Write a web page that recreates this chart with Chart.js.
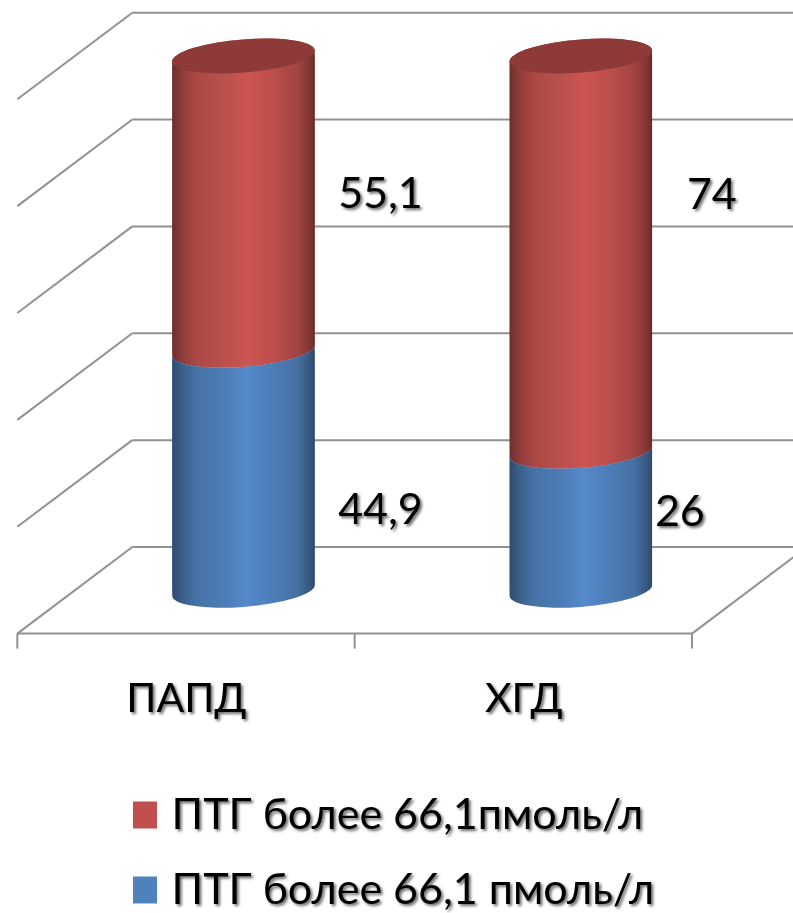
<!DOCTYPE html>
<html><head><meta charset="utf-8">
<style>html,body{margin:0;padding:0;background:#fff}#w{width:793px;height:913px;position:relative}</style>
<script src="https://cdn.jsdelivr.net/npm/chart.js@4"></script></head>
<body><div id="w"><canvas id="c"></canvas></div>
<script>
const categories = ['ПАПД', 'ХГД'];
const lowerName = 'ПТГ более 66,1 пмоль/л';
const upperName = 'ПТГ более 66,1пмоль/л';
const lowerValues = [44.9, 26];
const upperValues = [55.1, 74];
const lowerLabels = ['44,9', '26'];
const upperLabels = ['55,1', '74'];
const yTicks = [0, 20, 40, 60, 80, 100];

const FONT = 'Lato, "Open Sans", "Noto Sans", sans-serif';
const TXT = '#000';
const DX = 57.5, DY = 43.3, SHEAR = -0.0758, RY = 16.6;
const redStops = [[0,'#6c2e2c'],[.07,'#8e3c3a'],[.17,'#ab4845'],[.35,'#b9504c'],[.52,'#cb5551'],[.7,'#bd4f4c'],[.88,'#a14341'],[.96,'#843735'],[1,'#662a29']];
const blueStops = [[0,'#2e4c70'],[.07,'#3b6088'],[.17,'#4673a6'],[.35,'#4c7bb5'],[.52,'#5689cb'],[.7,'#4d7db8'],[.88,'#4470a3'],[.96,'#38587f'],[1,'#2d4a6c']];
const labelOffsets = [
  [[137, 40], [99, -9]],
  [[137, -9], [131, -59]]
];

function silhouette(ctx, b, topUpper) {
  const r = b.width / 2;
  ctx.moveTo(b.x - r, b.y + r * SHEAR * -1);
  ctx.save();
  ctx.transform(1, SHEAR, 0, 1, b.x, b.y);
  ctx.ellipse(0, 0, r, RY, 0, Math.PI, 0, !topUpper);
  ctx.restore();
  ctx.save();
  ctx.transform(1, SHEAR, 0, 1, b.x, b.base);
  ctx.ellipse(0, 0, r, RY, 0, 0, Math.PI, false);
  ctx.restore();
  ctx.closePath();
}
function grad(ctx, b, stops) {
  const g = ctx.createLinearGradient(b.x - b.width / 2, 0, b.x + b.width / 2, 0);
  stops.forEach(s => g.addColorStop(s[0], s[1]));
  return g;
}

const cylinder = {
  id: 'cylinder',
  beforeInit(chart) {
    const ctx = chart.ctx, orig = ctx.fillText;
    ctx.fillText = function (...a) {
      ctx.save();
      ctx.shadowColor = 'rgba(0,0,0,.6)';
      ctx.shadowOffsetX = 2; ctx.shadowOffsetY = 2; ctx.shadowBlur = 3;
      if (a[0] === lowerName || a[0] === upperName) a[1] -= 7;
      orig.apply(ctx, a);
      ctx.restore();
    };
  },
  afterLayout(chart) { chart.legend.left = 133 - chart.legend.options.labels.padding; chart.legend.top = 761.5; },
  beforeDatasetsDraw(chart) {
    const ctx = chart.ctx, x = chart.scales.x, y = chart.scales.y;
    const step = x.width / categories.length;
    ctx.save();
    ctx.strokeStyle = '#919191'; ctx.lineWidth = 2;
    const line = (a, b, c, d) => { ctx.beginPath(); ctx.moveTo(a, b); ctx.lineTo(c, d); ctx.stroke(); };
    const L = x.left - DX, R = x.right - DX;
    yTicks.forEach(v => {
      const p = y.getPixelForValue(v);
      line(L, p + DY, L + 2 * DX, p - DY);
      line(L + 2 * DX, p - DY, 793, p - DY);
    });
    const p0 = y.getPixelForValue(0);
    line(L, p0 + DY, R, p0 + DY);
    line(R, p0 + DY, R + 2 * DX, p0 - DY);
    for (let i = 0; i <= categories.length; i++) {
      const px = L + i * step;
      line(px, p0 + DY, px, p0 + DY + 15);
    }
    ctx.restore();
  },
  beforeDatasetDraw(chart, args) {
    const ctx = chart.ctx, isTop = args.index === 1;
    ctx.save();
    ctx.beginPath();
    args.meta.data.forEach(b => silhouette(ctx, b, isTop));
    ctx.clip();
  },
  afterDatasetDraw(chart, args) {
    const ctx = chart.ctx, isTop = args.index === 1;
    ctx.restore();
    args.meta.data.forEach(b => {
      ctx.save();
      ctx.beginPath();
      silhouette(ctx, b, isTop);
      ctx.fillStyle = grad(ctx, b, isTop ? redStops : blueStops);
      ctx.fill();
      if (isTop) {
        ctx.translate(b.x, b.y);
        ctx.transform(1, SHEAR, 0, 1, 0, 0);
        ctx.beginPath();
        ctx.ellipse(0, 0, b.width / 2, RY, 0, 0, 2 * Math.PI);
        ctx.fillStyle = '#8e3a38';
        ctx.fill();
      }
      ctx.restore();
    });
  },
  afterDatasetsDraw(chart) {
    const ctx = chart.ctx;
    ctx.save();
    ctx.font = '43px ' + FONT;
    ctx.fillStyle = TXT; ctx.textAlign = 'center'; ctx.textBaseline = 'middle';
    [lowerLabels, upperLabels].forEach((labels, d) => {
      chart.getDatasetMeta(d).data.forEach((b, i) => {
        const o = labelOffsets[d][i];
        ctx.fillText(labels[i], b.x + o[0], (b.y + b.base) / 2 + o[1]);
      });
    });
    ctx.restore();
  }
};

Chart.defaults.font.family = FONT;
new Chart(document.getElementById('c'), {
  type: 'bar',
  data: {
    labels: categories,
    datasets: [
      { label: lowerName, data: lowerValues, backgroundColor: '#4F81BD', stack: 's' },
      { label: upperName, data: upperValues, backgroundColor: '#C0504D', stack: 's' }
    ]
  },
  options: {
    responsive: true, maintainAspectRatio: false, animation: false,
    barPercentage: 0.4225, categoryPercentage: 1,
    layout: { padding: { left: 74.8, right: 43.5, top: 56, bottom: -47 } },
    scales: {
      x: {
        stacked: true,
        grid: { display: false }, border: { display: false },
        ticks: { color: TXT, font: { size: 41 }, labelOffset: -57, padding: 76.25, maxRotation: 0 }
      },
      y: { stacked: true, display: false, min: 0, max: 100, ticks: { stepSize: 20 } }
    },
    plugins: {
      title: { display: false },
      tooltip: { enabled: false },
      legend: {
        position: 'bottom', align: 'start', reverse: true,
        labels: { color: TXT, font: { size: 43 }, boxWidth: 24, boxHeight: 27, padding: 32 }
      }
    }
  },
  plugins: [cylinder]
});
</script></body></html>
